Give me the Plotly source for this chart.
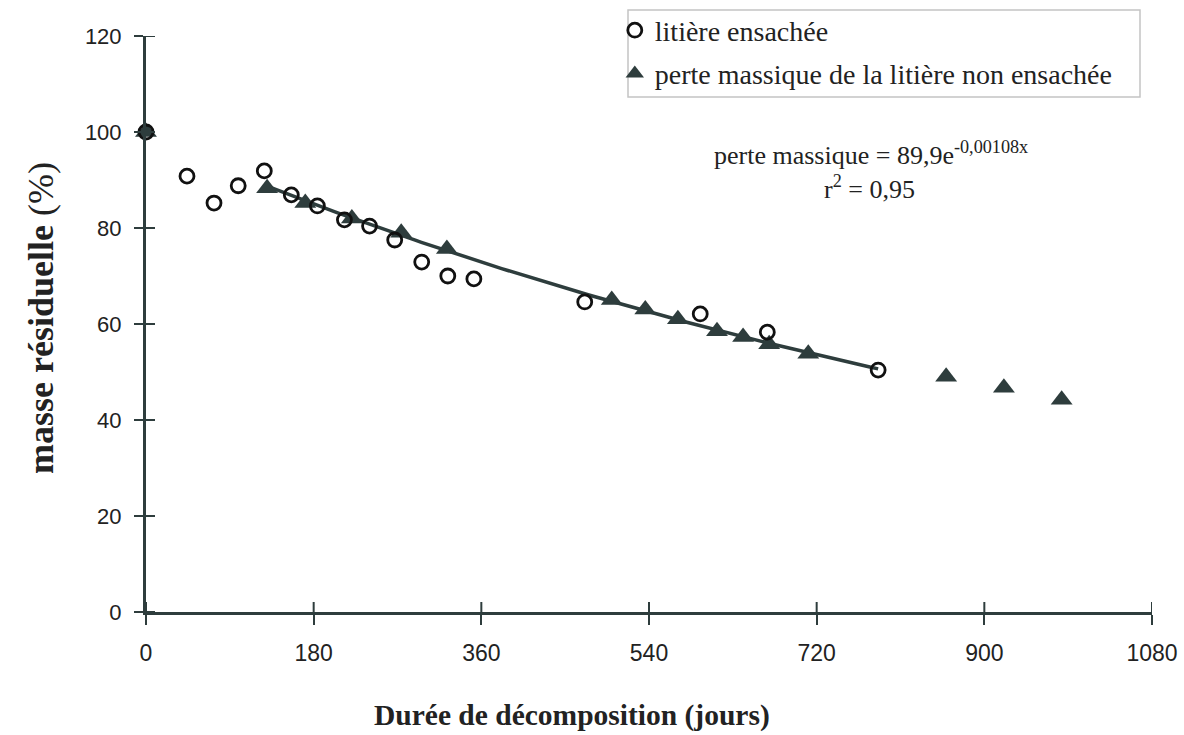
import numpy as np
import plotly.graph_objects as go

# Litière ensachée (open circles)
bag_days = [0, 44, 73, 99, 127, 156, 184, 213, 240, 267, 296, 324, 352, 471, 595, 667, 786]
bag_mass = [100, 90.8, 85.2, 88.8, 91.9, 86.9, 84.6, 81.7, 80.4, 77.5, 72.9, 70.0, 69.4, 64.6, 62.1, 58.3, 50.4]

# Perte massique de la litière non ensachée (filled triangles)
free_days = [0, 130, 171, 221, 274, 323, 500, 536, 571, 613, 641, 669, 711, 859, 921, 983]
free_mass = [100, 88.3, 85.2, 82.0, 79.0, 75.6, 65.0, 63.0, 61.0, 58.5, 57.3, 55.8, 53.8, 49.0, 46.7, 44.2]

x_ticks = [0, 180, 360, 540, 720, 900, 1080]
y_ticks = [0, 20, 40, 60, 80, 100, 120]

INK = "#2e3d3d"
TXT = "#222222"
SERIF = "Liberation Serif, Times New Roman, serif"
SANS = "Liberation Sans, Arial, sans-serif"

# exponential trend fitted on the non-bagged series (days 130..711)
fd = np.array(free_days, dtype=float)
fm = np.array(free_mass, dtype=float)
sel = (fd >= 130) & (fd <= 711)
k, lna = np.polyfit(fd[sel], np.log(fm[sel]), 1)
xfit = np.linspace(fd[sel].min(), max(bag_days), 100)
yfit = np.exp(lna) * np.exp(k * xfit)

fig = go.Figure()
fig.add_trace(go.Scatter(x=xfit, y=yfit, mode="lines", line=dict(color=INK, width=3.5),
                         showlegend=False, hoverinfo="skip", cliponaxis=False))
fig.add_trace(go.Scatter(x=free_days, y=free_mass, mode="markers", name="perte massique de la litière non ensachée",
                         marker=dict(symbol="triangle-up", size=19, color=INK, line=dict(width=0)),
                         cliponaxis=False, legendgroup="b", legendrank=2))
fig.add_trace(go.Scatter(x=bag_days, y=bag_mass, mode="markers", name="litière ensachée",
                         marker=dict(symbol="circle-open", size=14, color="#111111", line=dict(width=2.8)),
                         cliponaxis=False, legendgroup="a", legendrank=1))

tickfont_x = dict(family=SANS, size=23, color=TXT)
tickfont_y = dict(family=SANS, size=22, color=TXT)

fig.update_layout(
    width=1184, height=735,
    margin=dict(l=146, r=32, t=36, b=123, autoexpand=False),
    paper_bgcolor="white", plot_bgcolor="white",
    font=dict(family=SERIF, color=TXT),
    showlegend=True,
    legend=dict(x=0.466, y=1.053, xanchor="left", yanchor="top", bgcolor="rgba(0,0,0,0)",
                font=dict(family=SERIF, size=28, color=TXT),
                tracegroupgap=4),
    xaxis=dict(range=[0, 1080], tickvals=x_ticks, ticktext=[str(v) for v in x_ticks],
               showgrid=False, zeroline=False, showline=True, linecolor=INK, linewidth=3,
               ticks="outside", ticklen=10, tickwidth=2, tickcolor=INK, automargin=False,
               tickfont=tickfont_x, ticklabelstandoff=8),
    yaxis=dict(range=[0, 120], tickvals=y_ticks, ticktext=[str(v) for v in y_ticks],
               showgrid=False, zeroline=False, showline=True, linecolor=INK, linewidth=3,
               ticks="outside", ticklen=9, tickwidth=2, tickcolor=INK, automargin=False,
               tickfont=tickfont_y, ticklabelstandoff=8),
)

# inner half of the crossing tick marks, at the tick values through the axes' own scales
for tv in x_ticks:
    fig.add_shape(type="line", xref="x", yref="y", x0=tv, x1=tv,
                  ysizemode="pixel", yanchor=0, y0=0, y1=10,
                  line=dict(color=INK, width=2))
for tv in y_ticks:
    fig.add_shape(type="line", xref="x", yref="y", y0=tv, y1=tv,
                  xsizemode="pixel", xanchor=0, x0=0, x1=9,
                  line=dict(color=INK, width=2))

# axis titles as annotations (positioned like the reference)
fig.add_annotation(xref="paper", yref="paper", x=(572 - 146) / 1006, y=(612 - 715) / 576,
                   text="<b>Durée de décomposition (jours)</b>", showarrow=False,
                   font=dict(family=SERIF, size=29.5, color=TXT), xanchor="center", yanchor="middle")
fig.add_annotation(xref="paper", yref="paper", x=(41 - 146) / 1006, y=(612 - 318) / 576,
                   text="<b>masse résiduelle</b> (%)", showarrow=False, textangle=-90,
                   font=dict(family=SERIF, size=36, color=TXT), xanchor="center", yanchor="middle")

# legend frame
fig.add_shape(type="rect", xref="paper", yref="paper",
              x0=(628 - 146) / 1006, x1=(1140 - 146) / 1006,
              y0=(612 - 97) / 576, y1=(612 - 10) / 576,
              line=dict(color="#c4c4c4", width=1.5), fillcolor="rgba(0,0,0,0)", layer="below")

eqfont = dict(family=SERIF, size=26, color=TXT)
fig.add_annotation(xref="paper", yref="paper", x=(871 - 146) / 1006, y=(612 - 153) / 576,
                   text="perte massique = 89,9e<sup>-0,00108x</sup>", showarrow=False,
                   font=eqfont, xanchor="center", yanchor="middle")
fig.add_annotation(xref="paper", yref="paper", x=(869 - 146) / 1006, y=(612 - 188) / 576,
                   text="r<sup>2</sup> = 0,95", showarrow=False,
                   font=eqfont, xanchor="center", yanchor="middle")

fig.write_html("out.html", post_script="document.body.style.margin='0px';",
               config={"displayModeBar": False})
